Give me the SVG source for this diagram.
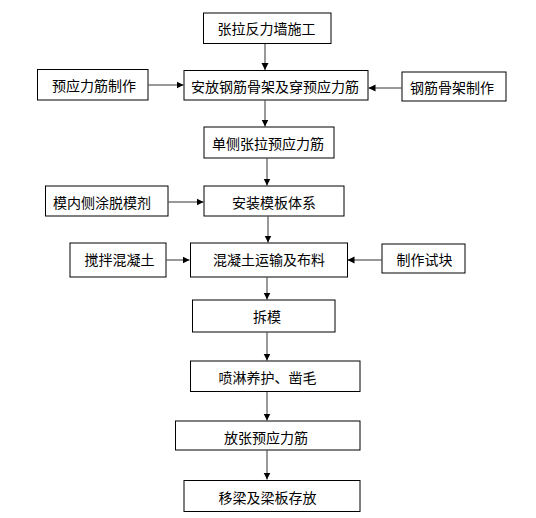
<svg xmlns="http://www.w3.org/2000/svg" width="536" height="518" viewBox="0 0 536 518">
<defs>
<marker id="ah" markerWidth="8" markerHeight="8" refX="7" refY="4" orient="auto" markerUnits="userSpaceOnUse">
<path d="M0,0.5 L7,4 L0,7.5 Z" fill="#000"/>
</marker>
<style>
rect{fill:#fff;stroke:#000;stroke-width:1}
text{font-family:"Noto Sans CJK SC","Noto Sans CJK TC",sans-serif;font-size:14px;fill:#000;text-anchor:middle;dominant-baseline:central}
.c line{stroke:#333;stroke-width:1;marker-end:url(#ah)}
</style>
</defs>
<rect x="0" y="0" width="536" height="518" style="stroke:none"/>
<g class="c" id="connectors">
<line x1="265" y1="43.5" x2="265" y2="70"/>
<line x1="148.5" y1="85" x2="183.5" y2="85"/>
<line x1="401.5" y1="88" x2="368.5" y2="88"/>
<line x1="265" y1="100.5" x2="265" y2="126.5"/>
<line x1="267" y1="158.5" x2="267" y2="185.5"/>
<line x1="168.5" y1="202" x2="203.5" y2="202"/>
<line x1="268" y1="216.5" x2="268" y2="242.5"/>
<line x1="166.5" y1="260" x2="189.5" y2="260"/>
<line x1="381.5" y1="260" x2="347.5" y2="260"/>
<line x1="267" y1="277.5" x2="267" y2="299.5"/>
<line x1="267" y1="332.5" x2="267" y2="360.5"/>
<line x1="267" y1="391.5" x2="267" y2="420.5"/>
<line x1="267" y1="450.5" x2="267" y2="479.5"/>
</g>
<g id="n1"><rect x="203.5" y="13" width="127.5" height="30.5"/><text x="266.5" y="28">张拉反力墙施工</text></g>
<g id="n2"><rect x="184" y="70.5" width="184" height="29.5"/><text x="275" y="86">安放钢筋骨架及穿预应力筋</text></g>
<g id="n3"><rect x="37.5" y="69.5" width="110.5" height="30.5"/><text x="94" y="85">预应力筋制作</text></g>
<g id="n4"><rect x="402" y="72" width="104" height="29"/><text x="452" y="87">钢筋骨架制作</text></g>
<g id="n5"><rect x="204" y="127" width="130" height="31"/><text x="268" y="143">单侧张拉预应力筋</text></g>
<g id="n6"><rect x="204" y="186" width="140" height="30"/><text x="274" y="202">安装模板体系</text></g>
<g id="n7"><rect x="45.5" y="186" width="122.5" height="30"/><text x="102" y="202">模内侧涂脱模剂</text></g>
<g id="n8"><rect x="190.5" y="243" width="157" height="34"/><text x="269" y="259">混凝土运输及布料</text></g>
<g id="n9"><rect x="70" y="243" width="96" height="34"/><text x="119.5" y="259">搅拌混凝土</text></g>
<g id="n10"><rect x="382" y="244" width="83" height="29"/><text x="424.5" y="259">制作试块</text></g>
<g id="n11"><rect x="192.5" y="300" width="142.5" height="32"/><text x="267" y="316">拆模</text></g>
<g id="n12"><rect x="190.5" y="361" width="169.5" height="30.5"/><text x="267.5" y="377">喷淋养护、凿毛</text></g>
<g id="n13"><rect x="175.5" y="421" width="184.5" height="29"/><text x="266" y="437">放张预应力筋</text></g>
<g id="n14"><rect x="184" y="480.5" width="176" height="31"/><text x="267.5" y="497">移梁及梁板存放</text></g>
</svg>
